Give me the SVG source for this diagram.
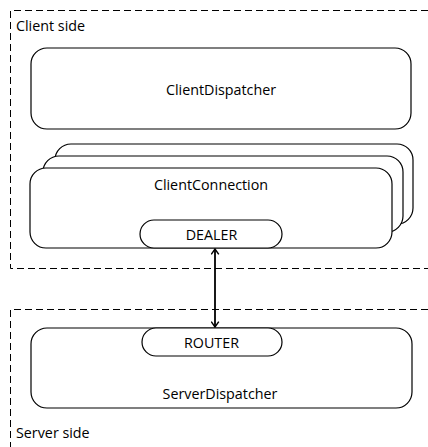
<svg xmlns="http://www.w3.org/2000/svg" width="428" height="447" viewBox="0 0 428 447">
  <defs>
    <style>
      .zone { fill: none; stroke: #000; stroke-width: 1; stroke-dasharray: 7 4; }
      .box { fill: #fff; stroke: #000; stroke-width: 1.2; }
      .lbl { font-family: "Open Sans", "Liberation Sans", sans-serif; font-size: 14.3px; fill: #000; }
      .mid { text-anchor: middle; }
      .link { fill: none; stroke: #000; stroke-width: 1.8; }
    </style>
    <marker id="chev" viewBox="0 0 10 10" refX="9" refY="5" markerWidth="9" markerHeight="9" orient="auto-start-reverse" markerUnits="userSpaceOnUse">
      <path d="M3 0.8 L9 5 L3 9.2" fill="none" stroke="#000" stroke-width="1.6"/>
    </marker>
  </defs>
  <rect width="428" height="447" fill="#fff"/>

  <!-- deployment zones -->
  <g id="client-side">
    <path class="zone" d="M428 10.5 H10.5 V268.5 H428"/>
    <text class="lbl" x="16" y="31">Client side</text>
  </g>
  <g id="server-side">
    <path class="zone" d="M428 309.5 H10.5 V447"/>
    <text class="lbl" x="16" y="438">Server side</text>
  </g>

  <g id="client-dispatcher">
    <rect class="box" x="31" y="48" width="380" height="81" rx="16"/>
    <text class="lbl mid" x="221" y="95">ClientDispatcher</text>
  </g>

  <!-- stacked connection instances -->
  <g id="client-connection">
    <rect class="box" x="55" y="144" width="358" height="80" rx="16"/>
    <rect class="box" x="43" y="156" width="360" height="76" rx="16"/>
    <rect class="box" x="30" y="168" width="362" height="80" rx="16"/>
    <text class="lbl mid" x="211" y="190">ClientConnection</text>
  </g>
  <g id="dealer">
    <rect class="box" x="140" y="220" width="142" height="28" rx="14"/>
    <text class="lbl mid" x="211.5" y="240">DEALER</text>
  </g>

  <g id="server-dispatcher">
    <rect class="box" x="31" y="328" width="381" height="80" rx="16"/>
    <text class="lbl mid" x="220" y="399">ServerDispatcher</text>
  </g>
  <g id="router">
    <rect class="box" x="142" y="328" width="140" height="28" rx="14"/>
    <text class="lbl mid" x="211.5" y="348">ROUTER</text>
  </g>

  <g id="connectors">
    <line class="link" x1="215" y1="249" x2="215" y2="327" marker-start="url(#chev)" marker-end="url(#chev)"/>
  </g>
</svg>
